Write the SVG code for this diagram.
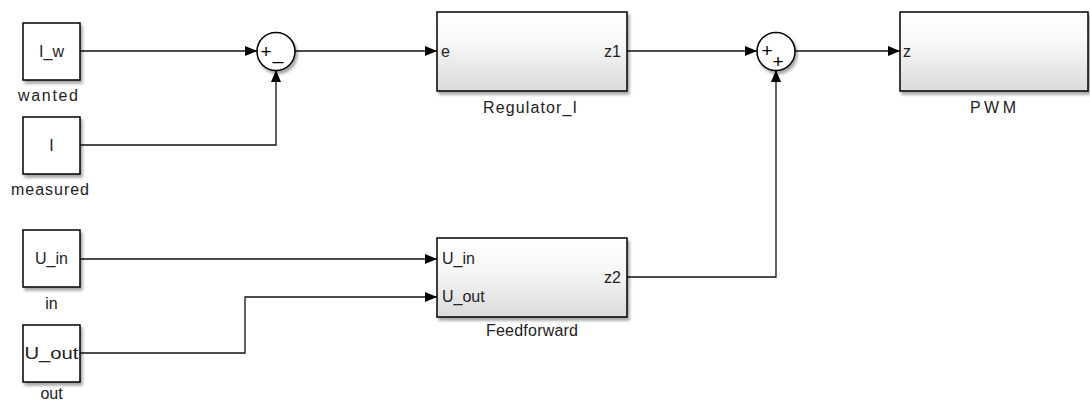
<svg xmlns="http://www.w3.org/2000/svg" width="1090" height="403" viewBox="0 0 1090 403">
<style>
.blk{fill:#fff;stroke:#000;stroke-width:1.5}
.sub{fill:url(#g);stroke:#000;stroke-width:1.5}
.sum{fill:#fff;stroke:#000;stroke-width:1.5}
.ln{fill:none;stroke:#111;stroke-width:1.3}
text{font-family:"Liberation Sans",Arial,sans-serif;font-size:16px;fill:#222}
.c{text-anchor:middle}
.e{text-anchor:end}
.sg{font-size:19px;fill:#000}
</style>
<defs>
<linearGradient id="g" x1="0" y1="0" x2="0" y2="1">
<stop offset="0" stop-color="#ffffff"/>
<stop offset="0.4" stop-color="#f7f7f7"/>
<stop offset="1" stop-color="#dadada"/>
</linearGradient>
<filter id="sh" x="-10%" y="-10%" width="130%" height="130%">
<feGaussianBlur in="SourceAlpha" stdDeviation="1.5"/>
<feOffset dx="2" dy="3" result="b"/>
<feComponentTransfer><feFuncA type="linear" slope="0.35"/></feComponentTransfer>
<feMerge><feMergeNode/><feMergeNode in="SourceGraphic"/></feMerge>
</filter>
<marker id="ar" viewBox="0 0 12 10" refX="12" refY="5" markerWidth="12" markerHeight="10" markerUnits="userSpaceOnUse" orient="auto">
<path d="M0,0 L12,5 L0,10 Z" fill="#000"/>
</marker>
</defs>

<g id="connectors">
<path class="ln" d="M80,51 H257" marker-end="url(#ar)"/>
<path class="ln" d="M80,145 H276 V70" marker-end="url(#ar)"/>
<path class="ln" d="M295,51 H437" marker-end="url(#ar)"/>
<path class="ln" d="M627,51 H757" marker-end="url(#ar)"/>
<path class="ln" d="M795,51 H900" marker-end="url(#ar)"/>
<path class="ln" d="M627,277 H776 V70" marker-end="url(#ar)"/>
<path class="ln" d="M80,259 H437" marker-end="url(#ar)"/>
<path class="ln" d="M80,353 H245 V297 H437" marker-end="url(#ar)"/>
</g>

<g id="in_wanted">
<rect class="blk" x="23" y="23" width="57" height="57" filter="url(#sh)"/>
<text class="c" x="51.5" y="57">I_w</text>
<text class="c" x="48" y="101" textLength="60" lengthAdjust="spacing">wanted</text>
</g>
<g id="in_measured">
<rect class="blk" x="23" y="117" width="57" height="57" filter="url(#sh)"/>
<text class="c" x="51.5" y="151">I</text>
<text class="c" x="50" y="195" textLength="78" lengthAdjust="spacing">measured</text>
</g>
<g id="in_in">
<rect class="blk" x="23" y="230" width="57" height="57" filter="url(#sh)"/>
<text class="c" x="51.5" y="264">U_in</text>
<text class="c" x="51.5" y="309">in</text>
</g>
<g id="in_out">
<rect class="blk" x="23" y="325" width="57" height="57" filter="url(#sh)"/>
<text class="c" x="51.5" y="359" textLength="54" lengthAdjust="spacingAndGlyphs">U_out</text>
<text class="c" x="51.5" y="399">out</text>
</g>

<g id="sum1">
<circle class="sum" cx="276" cy="51.5" r="19" filter="url(#sh)"/>
<text class="sg c" x="266" y="58">+</text>
<text class="sg c" x="278" y="59">_</text>
</g>
<g id="sum2">
<circle class="sum" cx="776" cy="51.5" r="19" filter="url(#sh)"/>
<text class="sg c" x="767" y="57">+</text>
<text class="sg c" x="778" y="68">+</text>
</g>

<g id="regulator">
<rect class="sub" x="437" y="12" width="190" height="79" filter="url(#sh)"/>
<text x="441" y="57">e</text>
<text class="e" x="621" y="57">z1</text>
<text class="c" x="530" y="113" textLength="94" lengthAdjust="spacing">Regulator_I</text>
</g>
<g id="pwm">
<rect class="sub" x="900" y="12" width="188" height="79" filter="url(#sh)"/>
<text x="903" y="57">z</text>
<text class="c" x="993" y="113" textLength="46" lengthAdjust="spacing">PWM</text>
</g>
<g id="feedforward">
<rect class="sub" x="437" y="238" width="190" height="79" filter="url(#sh)"/>
<text x="442" y="264">U_in</text>
<text x="442" y="302">U_out</text>
<text class="e" x="621" y="283">z2</text>
<text class="c" x="532" y="336" textLength="92" lengthAdjust="spacing">Feedforward</text>
</g>
</svg>
